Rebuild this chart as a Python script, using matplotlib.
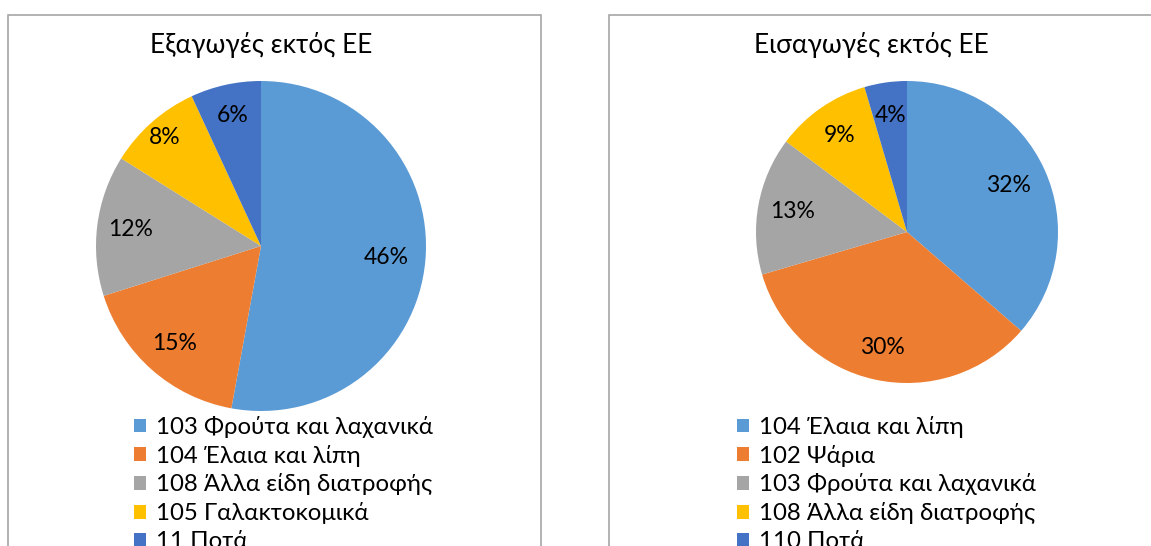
import matplotlib
matplotlib.use("Agg")
import numpy as np
import matplotlib.pyplot as plt
from matplotlib.patches import Rectangle, Patch

plt.rcParams['font.family'] = ['Lato', 'Noto Sans', 'DejaVu Sans']

# data
exp_title = "Εξαγωγές εκτός ΕΕ"
exp_labels = ["103 Φρούτα και λαχανικά", "104 Έλαια και λίπη", "108 Άλλα είδη διατροφής",
              "105 Γαλακτοκομικά", "11 Ποτά"]
exp_values = [46, 15, 12, 8, 6]

imp_title = "Εισαγωγές εκτός ΕΕ"
imp_labels = ["104 Έλαια και λίπη", "102 Ψάρια", "103 Φρούτα και λαχανικά",
              "108 Άλλα είδη διατροφής", "110 Ποτά"]
imp_values = [32, 30, 13, 9, 4]

colors = ['#5B9BD5', '#ED7D31', '#A5A5A5', '#FFC000', '#4472C4']

W, H = 1151, 546
fig = plt.figure(figsize=(W / 100, H / 100), dpi=100)


def px_axes(cx, cy, r):
    return fig.add_axes([(cx - r) / W, (H - cy - r) / H, 2 * r / W, 2 * r / H])


def draw_panel(x0, x1, cx, cy, r, title, tx, labels, values, pctdist, leg_x):
    # chart frame
    fig.add_artist(Rectangle((x0 / W, -0.1), (x1 - x0) / W, (H - 15) / H + 0.1,
                             transform=fig.transFigure, fill=False,
                             edgecolor='#A6A6A6', linewidth=1.2))
    ax = px_axes(cx, cy, r)
    wedges, texts, autotexts = ax.pie(values, colors=colors, startangle=90, counterclock=False,
                                      autopct='%1.1f', pctdistance=0.8, radius=1,
                                      textprops={'fontsize': 16.5})
    # label distance per wedge, like Excel's best fit
    for w, t, v, d in zip(wedges, autotexts, values, pctdist):
        ang = np.deg2rad((w.theta1 + w.theta2) / 2)
        t.set_position((d * np.cos(ang), d * np.sin(ang)))
        t.set_text(f"{v}%")
    ax.set_xlim(-1, 1)
    ax.set_ylim(-1, 1)
    ax.axis('off')
    fig.text(tx / W, 1 - 45 / H, title, ha='center', va='center', fontsize=18.9)
    handles = [Patch(facecolor=c) for c in colors]
    fig.legend(handles, labels, loc='upper left', bbox_to_anchor=(leg_x / W, 1 - 416 / H),
               frameon=False, fontsize=17.3, handlelength=0.5, handleheight=0.5,
               handletextpad=0.4, labelspacing=0.28, borderpad=0, borderaxespad=0)


draw_panel(8, 541, 261, 246, 165, exp_title, 261, exp_labels, exp_values,
           [0.76, 0.79, 0.8, 0.88, 0.81], 134)
draw_panel(609, 1160, 907, 232, 151, imp_title, 871, imp_labels, imp_values,
           [0.74, 0.78, 0.77, 0.78, 0.78], 737)

fig.savefig("out.png", dpi=100)
